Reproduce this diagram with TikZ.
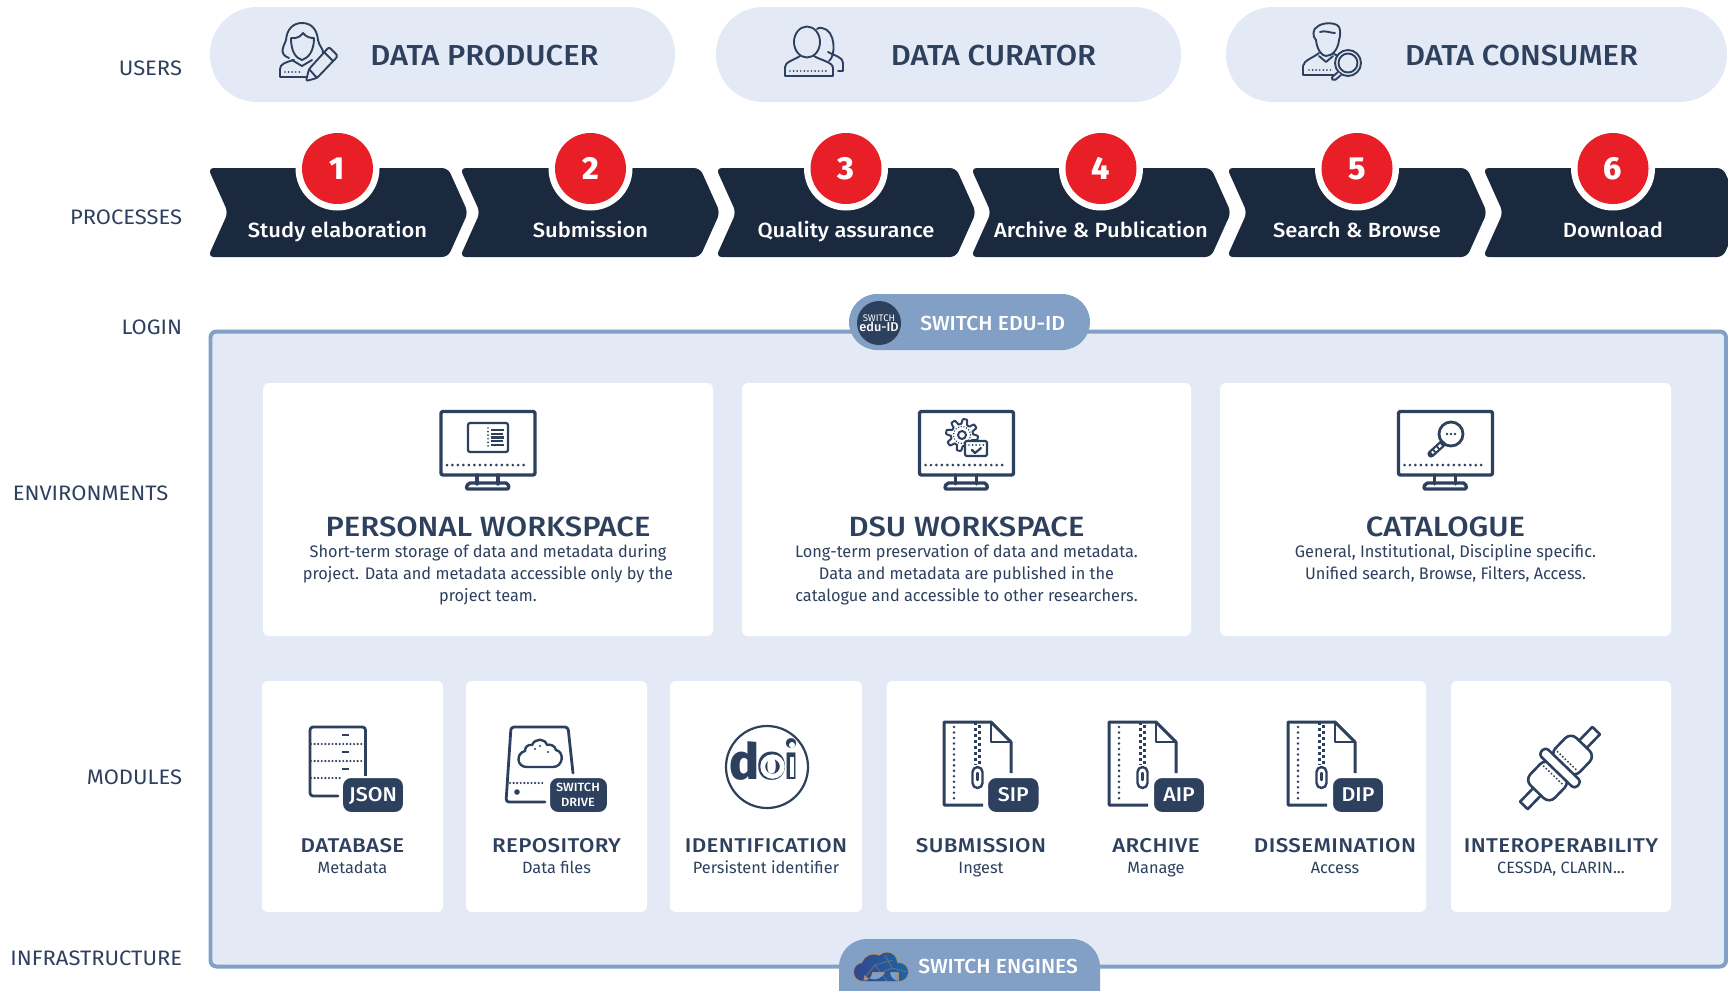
\documentclass[tikz,border=0pt]{standalone}
\usepackage{fontspec}
\setmainfont{Fira Sans}
\newfontfamily\sidef[FakeStretch=1.05]{Fira Sans}
\newfontfamily\bodyf[FakeStretch=0.975]{Fira Sans}
\newfontfamily\medf[FakeStretch=1.07]{Fira Sans Medium}
\newfontfamily\swf[FakeStretch=1.04]{Fira Sans Medium}
\newfontfamily\envf[FakeStretch=1.11]{Fira Sans Medium}
\newfontfamily\modf[FakeStretch=1.12,LetterSpace=2]{Fira Sans Medium}
\newfontfamily\heavyf{Fira Sans ExtraBold}
\definecolor{pale}{HTML}{E4EAF5}
\definecolor{steel}{HTML}{82A0C6}
\definecolor{dk}{HTML}{2D405E}
\definecolor{chev}{HTML}{1A293D}
\definecolor{redc}{HTML}{E81F26}
\definecolor{cloudl}{HTML}{34468C}
\definecolor{cloudr}{HTML}{1C66A6}
\definecolor{rim}{HTML}{B98A5A}
\tikzset{
 txt/.style={inner sep=0pt,text=dk,align=center},
 side/.style={txt,font=\sidef\fontsize{10.5}{12}\selectfont,text height=7.2pt,text depth=0pt},
 pilltitle/.style={txt,font=\medf\fontsize{14.5}{16}\selectfont,text height=10pt,text depth=0pt},
 chevlabel/.style={inner sep=0pt,text=white,font=\medf\fontsize{10.3}{12}\selectfont,text height=7.2pt,text depth=0pt},
 envtitle/.style={txt,font=\envf\fontsize{14}{16}\selectfont,text height=9.6pt,text depth=0pt},
 envbody/.style={txt,font=\bodyf\fontsize{8.4}{11}\selectfont},
 modtitle/.style={txt,font=\modf\fontsize{10}{12}\selectfont,text height=6.9pt,text depth=0pt},
 modsub/.style={txt,font=\fontsize{8.2}{10}\selectfont,text height=5.8pt,text depth=0pt},
 num/.style={inner sep=0pt,text=white,font=\heavyf\fontsize{16}{16}\selectfont,text height=11pt,text depth=0pt},
 ic/.style={draw=dk,line width=0.95pt,line join=round,line cap=round},
 icm/.style={draw=dk,line width=1.7pt,line join=round,line cap=round},
 dots/.style={draw=dk,line width=1.5pt,line cap=round,dash pattern=on 0pt off 2.75pt},
 fdots/.style={draw=dk,line width=0.95pt,line cap=round,dash pattern=on 0pt off 1.8pt},
 bad/.style={inner sep=0pt,text=white,font=\medf\fontsize{10}{11}\selectfont,align=center,text height=7pt,text depth=0pt},
}
\newcommand\pill[2]{\path[fill=pale,rounded corners=23.5bp] (#1,7) rectangle (#2,102);}
\newcommand\chevron[1]{\path[fill=chev,rounded corners=3pt] (#1-2,168) -- (#1+238,168) -- (#1+258,212.5) -- (#1+238,257) -- (#1-2,257) -- (#1+18,212.5) -- cycle;}
\newcommand\numdisc[2]{\path[fill=white] (#1,168.5) circle[radius=42];
 \node[circle,fill=redc,minimum size=35.5bp,inner sep=0pt] (disc#2) at (#1,168.5) {};
 \node[num] (num#2) at (#1,168.5) {#2};}
\newcommand\card[4]{\path[fill=white,rounded corners=3pt] (#1,#3) rectangle (#2,#4);}
\newcommand\monitor[1]{\begin{scope}[shift={(#1,0)}]
 \draw[icm,rounded corners=1pt] (-47,411.5) rectangle (47,475);
 \draw[icm] (-11,475) -- (-11,484) (10,475) -- (10,484);
 \draw[icm,rounded corners=1pt] (-22,489) -- (-20,483) -- (20,483) -- (21,489) -- cycle;
 \draw[dots] (-41,465) -- (41,465);
 \end{scope}}
\newcommand\badge[4]{\path[fill=dk,draw=white,line width=1pt,rounded corners=4.5pt] (#1,777) rectangle (#2,813);
 \node[bad] (#3) at ({(#1+#2)/2},795) {#4};}
\newcommand\zipdoc[1]{\begin{scope}[shift={(#1,0)}]
 \draw[icm,line width=1.5pt,line cap=butt] (39,805) -- (0,805) -- (0,722) -- (47,722) -- (67,742) -- (67,773);
 \draw[icm,line width=1.3pt] (47,722) -- (47,742) -- (67,742);
 \draw[dots,line width=1.4pt] (10,727) -- (10,800);
 \draw[draw=dk,line width=1.5pt,dash pattern=on 1.5pt off 1.5pt] (31,722) -- (31,765);
 \draw[draw=dk,line width=1.5pt,dash pattern=on 1.5pt off 1.5pt,dash phase=1.5pt] (35,722) -- (35,765);
 \draw[ic,line width=1.2pt,rounded corners=2.5pt] (28.5,767) rectangle (38.5,788);
 \draw[dk,line width=1.2pt,line cap=round] (33.5,773) -- (33.5,780);
 \end{scope}}
\begin{document}
\begin{tikzpicture}[x=0.5bp,y=-0.5bp]
\useasboundingbox (0,0) rectangle (1728,990);
\clip (0,0) rectangle (1728,990);
% ---- side labels
\node[side,anchor=east] (lusers) at (182.5,68) {USERS};
\node[side,anchor=east] (lproc) at (182.5,217) {PROCESSES};
\node[side,anchor=east] (llogin) at (182.5,327) {LOGIN};
\node[side] (lenv) at (90.5,493) {ENVIRONMENTS};
\node[side,anchor=east] (lmod) at (182.5,777) {MODULES};
\node[side,anchor=east] (linf) at (182.5,958) {INFRASTRUCTURE};
% ---- user pills
\pill{210}{675}
\pill{716}{1181}
\pill{1226}{1727}
\node[pilltitle] (producer) at (484.5,56) {DATA PRODUCER};
\node[pilltitle] (curator) at (993.5,56) {DATA CURATOR};
\node[pilltitle] (consumer) at (1521.5,56) {DATA CONSUMER};
% producer icon
\draw[ic] (289,58) .. controls (278,54) and (284,46) .. (286,40) .. controls (287,28) and (294,23) .. (302,23) .. controls (312,23) and (317,30) .. (318,40) .. controls (319,46) and (324,50) .. (323,53);
\draw[ic] (291,38) .. controls (291,52) and (296,58) .. (302,60) .. controls (308,58) and (314,52) .. (314,38) .. controls (310,38) and (306,37) .. (303,33) .. controls (301,36) and (297,39) .. (291,38);
\draw[ic] (306,77) -- (280,77) -- (280,69) .. controls (280,64) and (286,62) .. (294,60);
\draw[ic] (292,60) -- (302,66) -- (312,60);
\draw[fdots] (285,72) -- (300,72);
\draw[ic,fill=pale,rounded corners=1pt] (306,81) -- (309,69) -- (329,47) -- (338,56) -- (317,78) -- cycle;
\draw[ic] (324,52) -- (333,61) (309,69) -- (317,78);
% curator icon
\draw[ic] (829,61) .. controls (836,56) and (836,30) .. (822,28) .. controls (820,27) and (818,28) .. (817,29);
\draw[ic] (838,71) -- (843,71) -- (843,63) .. controls (843,57) and (835,56) .. (828,52);
\draw[ic,fill=pale] (807,42) ellipse[x radius=13,y radius=15.5];
\draw[ic] (785,76) -- (785,67) .. controls (785,62) and (794,60) .. (800,56) (814,56) .. controls (820,60) and (833,62) .. (833,68) -- (833,76) -- (785,76);
\draw[fdots] (790,71) -- (828,71);
% consumer icon
\draw[ic] (1316,40) .. controls (1312,37) and (1313,28) .. (1317,27) .. controls (1322,22) and (1336,22) .. (1339,27) .. controls (1341,30) and (1340,38) .. (1339,40);
\draw[ic] (1316,40) .. controls (1317,50) and (1322,56) .. (1326,56) .. controls (1332,56) and (1338,50) .. (1339,40);
\draw[ic] (1320,32) .. controls (1325,30) and (1330,33) .. (1335,33);
\draw[ic] (1334,75) -- (1303,75) -- (1303,66) .. controls (1304,60) and (1313,58) .. (1319,53) (1333,53) .. controls (1336,56) and (1340,56) .. (1341,56);
\draw[ic] (1319,56) -- (1326,62) -- (1333,56);
\draw[fdots] (1309,70) -- (1333,70);
\draw[ic,fill=pale] (1348,63) circle[radius=13];
\draw[ic] (1348,63) circle[radius=9.5];
\draw[ic,fill=pale,rounded corners=1pt] (1338,72) -- (1331,78) -- (1334,81) -- (1341,75);
% ---- processes
\chevron{210}\chevron{462}\chevron{718}\chevron{973}\chevron{1229}\chevron{1485}
\numdisc{337.5}{1}\numdisc{590.5}{2}\numdisc{846}{3}\numdisc{1101}{4}\numdisc{1357}{5}\numdisc{1613}{6}
\node[chevlabel] (p1) at (337.5,230) {Study elaboration};
\node[chevlabel] (p2) at (590.5,230) {Submission};
\node[chevlabel] (p3) at (846,230) {Quality assurance};
\node[chevlabel] (p4) at (1101,230) {Archive \& Publication};
\node[chevlabel] (p5) at (1357,230) {Search \& Browse};
\node[chevlabel] (p6) at (1613,230) {Download};
% ---- main panel
\draw[fill=pale,draw=steel,line width=2pt,rounded corners=3pt] (210.5,331.5) rectangle (1726,966.5);
% login pill
\path[fill=steel,rounded corners=14bp] (849,294) rectangle (1090,350);
\path[fill=dk] (879,323) circle[radius=22];
\node[inner sep=0pt,text=white,align=center,font=\fontsize{4.8}{5.2}\selectfont] (edu) at (879,323) {SWITCH\\[-0.3pt]{\fontspec{Fira Sans Medium}\fontsize{6.4}{6.4}\selectfont edu-ID}};
\node[inner sep=0pt,text=white,anchor=west,font=\swf\fontsize{10.2}{12}\selectfont,text height=7pt,text depth=0pt] (swid) at (920,323.5) {SWITCH EDU-ID};
% engines pill
\path[fill=steel,rounded corners=14bp] (839,939) rectangle (1100,1040);
\path[fill=rim] (863,972) circle[radius=9.7] (874,967) circle[radius=13.2] (887,962.5) circle[radius=10.7] (899,972) circle[radius=9.7] (866,972) rectangle (897,981.7);
\path[left color=cloudl,right color=cloudr] (863,972) circle[radius=9] (874,967) circle[radius=12.5] (887,962.5) circle[radius=10] (899,972) circle[radius=9] (864,972) rectangle (899,981);
\draw[rim,line width=0.2pt,opacity=0.8] (862,981) -- (875,965) -- (887,981) (875,965) -- (893,960) (885,955) -- (892,968) -- (875,975) (892,968) -- (907,972);
\node[inner sep=0pt,text=white,anchor=west,font=\swf\fontsize{10.2}{12}\selectfont,text height=7pt,text depth=0pt] (swen) at (918,967) {SWITCH ENGINES};
% ---- environment cards
\card{263}{713}{383}{636}
\card{742}{1191}{383}{636}
\card{1220}{1671}{383}{636}
\monitor{488}\monitor{966.5}\monitor{1445.5}
% monitor 1 content
\draw[ic,line width=1.1pt,rounded corners=1pt] (468,423) rectangle (508,452);
\draw[fdots] (488,428) -- (488,448);
\draw[dk,line width=1.1pt] (491,430) -- (504,430) (491,434) -- (503,434) (491,437.5) -- (504,437.5) (491,441) -- (503,441) (491,445) -- (504,445);
% monitor 2 content
\draw[ic,line width=1pt] plot[domain=0:360,samples=145] ({962+(13.5+2.5*min(1,max(-1,2*sin(8*\x))))*cos(\x)},{435+(13.5+2.5*min(1,max(-1,2*sin(8*\x))))*sin(\x)}) -- cycle;
\draw[fdots,line width=0.8pt,dash pattern=on 0pt off 1.4pt] (962,435) circle[radius=8.5];
\draw[ic,line width=1pt] (962,435) circle[radius=4];
\draw[ic,line width=1.1pt,fill=white,rounded corners=0.7pt] (965,441) rectangle (987,456);
\draw[fdots] (969,445) -- (984,445);
\draw[ic,line width=1.1pt] (972,450) -- (975,453) -- (981,448);
% monitor 3 content
\draw[ic,line width=1.4pt] (1451,434) circle[radius=12];
\draw[dk,line width=3.6pt,line cap=round] (1442,444) -- (1431,454);
\draw[white,line width=1.3pt,dash pattern=on 1.5pt off 1pt] (1441,445) -- (1432,453);
\draw[dots,dash pattern=on 0pt off 2pt,line width=1.3pt] (1447,434) -- (1456,434);
% env text
\node[envtitle] (e1) at (488,527) {PERSONAL WORKSPACE};
\node[envbody,anchor=north] (e1b) at (488,544) {Short-term storage of data and metadata during\\project. Data and metadata accessible only by the\\project team.};
\node[envtitle] (e2) at (966.5,527) {DSU WORKSPACE};
\node[envbody,anchor=north] (e2b) at (966.5,544) {Long-term preservation of data and metadata.\\Data and metadata are published in the\\catalogue and accessible to other researchers.};
\node[envtitle] (e3) at (1445.5,527) {CATALOGUE};
\node[envbody,anchor=north] (e3b) at (1445.5,544) {General, Institutional, Discipline specific.\\Unified search, Browse, Filters, Access.};
% ---- module cards
\card{262}{443}{681}{912}
\card{466}{647}{681}{912}
\card{670}{862}{681}{912}
\card{886.5}{1426}{681}{912}
\card{1451}{1671}{681}{912}
% database icon
\draw[icm,line width=1.4pt,rounded corners=1.5pt] (338,796) -- (310,796) -- (310,727) -- (365.5,727) -- (365.5,777);
\draw[fdots,line width=1.2pt] (311,744) -- (365,744) (311,761) -- (365,761) (311,778) -- (341,778);
\draw[dk,line width=1.4pt] (342,735) -- (349,735) (342,752) -- (349,752) (342,769) -- (349,769);
\badge{342}{404}{bjson}{JSON}
% repository icon
\draw[icm,line width=1.4pt,rounded corners=1.5pt] (545,802) -- (506,802) -- (511,727) -- (568,727) -- (573,773);
\draw[fdots,line width=1.2pt] (510,783) -- (545,783);
\path[fill=dk] (517,792) circle[radius=2.8];
\draw[ic,line width=1.2pt] (527,767) -- (553,767) .. controls (563,767) and (565,752) .. (556,750) .. controls (555,745) and (549,744) .. (547,745) .. controls (545,738) and (535,738) .. (532,745) .. controls (528,744) and (525,747) .. (525,751) .. controls (516,753) and (516,767) .. (527,767) -- cycle;
\path[fill=dk] (535,749) circle[radius=1.2] (540,746) circle[radius=1.2] (548,752) circle[radius=1.2];
\path[fill=dk,draw=white,line width=1pt,rounded corners=4.5pt] (549,777) rectangle (608,813);
\node[inner sep=0pt,text=white,align=center,font=\medf\fontsize{6}{7.4}\selectfont] (bdrive) at (578,795) {SWITCH\\DRIVE};
% doi icon
\draw[ic,line width=1.1pt] (767,767) circle[radius=41];
\node[inner sep=0pt,text=dk,anchor=base west,font=\heavyf\fontsize{25}{25}\selectfont] (doi) at (730,779) {\makebox[13.75bp][c]{d}\makebox[14.5bp][c]{o}\makebox[5bp][c]{i}};
\draw[white,line width=2.4bp] (772.5,766.5) circle[radius=9.8];
\path[fill=white] (790.3,757) rectangle (793.7,776.5);
\path[fill=white] (792,745) circle[radius=3];
% zip icons
\zipdoc{944}\zipdoc{1109}\zipdoc{1288}
\badge{987}{1039.5}{bsip}{SIP}
\badge{1153}{1205}{baip}{AIP}
\badge{1332}{1384}{bdip}{DIP}
% plug icon
\begin{scope}[shift={(1560,768)},rotate=46]
\draw[ic,line width=1.3pt,fill=white] (30,-5.3) rectangle (52,5.3) (-30,-5.3) rectangle (-52,5.3);
\draw[ic,line width=1.3pt,fill=white,rounded corners=4bp] (3,-17) rectangle (33,17);
\draw[ic,line width=1.3pt,fill=white,rounded corners=4bp] (-3,-17) rectangle (-33,17);
\draw[ic,line width=1.3pt,fill=white,rounded corners=2bp] (-5,-25) rectangle (5,25);
\draw[fdots,line width=1.1pt] (10,-13) -- (10,13) (-10,-13) -- (-10,13);
\end{scope}
% module text
\node[modtitle] (m1) at (352.5,846) {DATABASE};
\node[modsub] (m1s) at (352.5,868) {Metadata};
\node[modtitle] (m2) at (556.5,846) {REPOSITORY};
\node[modsub] (m2s) at (556.5,868) {Data files};
\node[modtitle] (m3) at (766,846) {IDENTIFICATION};
\node[modsub] (m3s) at (766,868) {Persistent identifier};
\node[modtitle] (m4) at (981,846) {SUBMISSION};
\node[modsub] (m4s) at (981,868) {Ingest};
\node[modtitle] (m5) at (1156,846) {ARCHIVE};
\node[modsub] (m5s) at (1156,868) {Manage};
\node[modtitle] (m6) at (1335,846) {DISSEMINATION};
\node[modsub] (m6s) at (1335,868) {Access};
\node[modtitle] (m7) at (1561,846) {INTEROPERABILITY};
\node[modsub] (m7s) at (1561,868) {CESSDA, CLARIN...};
\end{tikzpicture}
\end{document}
